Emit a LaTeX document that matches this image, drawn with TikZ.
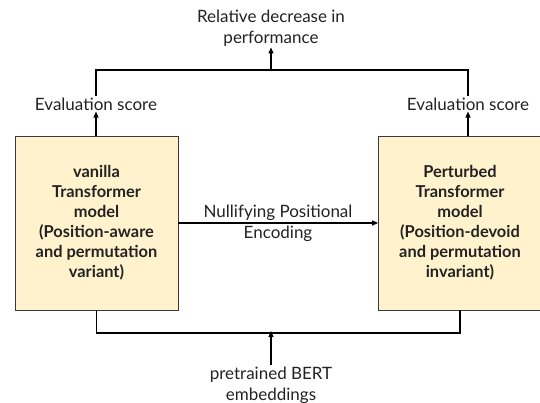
\documentclass[tikz,border=0pt]{standalone}
\usepackage{fontspec}
\setmainfont{Lato}
\usetikzlibrary{arrows.meta}
\definecolor{boxfill}{HTML}{FFF2CC}
\definecolor{boxline}{HTML}{36393D}
\definecolor{txt}{HTML}{222222}
\begin{document}
\begin{tikzpicture}[x=1pt,y=-1pt,
  model/.style={draw=boxline,fill=boxfill,line width=0.8pt,minimum width=163pt,minimum height=174pt,align=center,font=\fontsize{16.4}{20}\selectfont\bfseries,text=txt,inner sep=0pt},
  lbl/.style={align=center,font=\fontsize{17}{21}\selectfont,text=txt,inner sep=1pt},
  conn/.style={line width=1.2pt,black},
  arr/.style={conn,-{Triangle[length=6pt,width=5pt]}}]
\useasboundingbox (0,0) rectangle (540,403);
\node[model] (L) at (96.5,223) {vanilla\\Transformer\\model\\(Position-aware\\and permutation\\variant)};
\node[model] (R) at (460,223) {Perturbed\\Transformer\\model\\(Position-devoid\\and permutation\\invariant)};
\node[lbl] (eL) at (96,104) {Evaluation score};
\node[lbl] (eR) at (468,104) {Evaluation score};
\node[lbl] (rel) at (271,28) {Relative decrease in\\performance};
\node[lbl] (bert) at (271,385) {pretrained BERT\\embeddings};
\node[lbl] (nul1) at (278,213) {Nullifying Positional};
\node[lbl] (nul2) at (278,234) {Encoding};
\coordinate (tj) at (271,70);
\coordinate (bj) at (271,333);
\draw[arr] (L.north -| eL) -- (eL.south);
\draw[arr] (R.north -| eR) -- (eR.south);
\draw[conn] (eL.north) |- (tj) -| (eR.north);
\draw[arr] (tj) -- (rel.south);
\draw[arr] (L.east) -- (R.west);
\draw[conn] (L.south) |- (bj) -| (R.south);
\draw[arr] (bert.north) -- ([yshift=2pt]bj);
\end{tikzpicture}
\end{document}
